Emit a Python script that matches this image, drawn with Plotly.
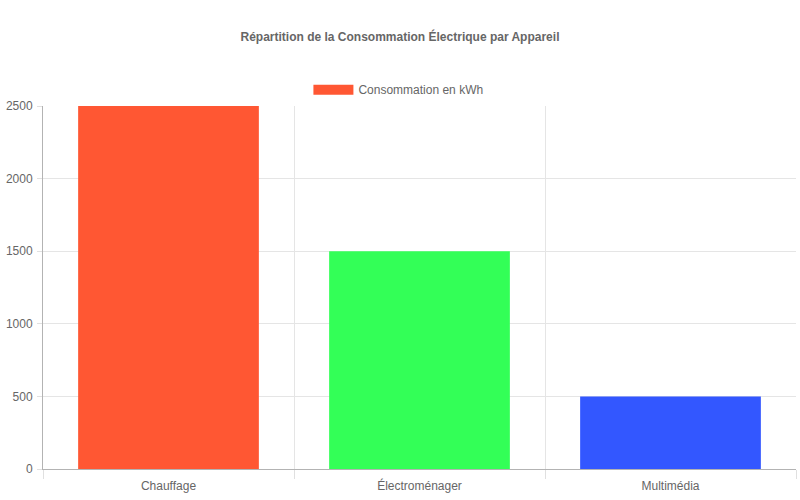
import plotly.graph_objects as go

categories = ["Chauffage", "Électroménager", "Multimédia"]
values = [2500, 1500, 500]
colors = ["#FF5733", "#33FF57", "#3357FF"]
series_name = "Consommation en kWh"
title_text = "Répartition de la Consommation Électrique par Appareil"
y_ticks = [0, 500, 1000, 1500, 2000, 2500]

fig = go.Figure()
fig.add_trace(go.Bar(
    x=categories, y=values, name=series_name,
    marker=dict(color=colors, line=dict(width=0)),
    showlegend=False, legendgroup="s",
))
# legend entry drawn as a wide swatch (like the reference's box)
fig.add_trace(go.Scatter(
    x=[None], y=[None], mode="lines", name=series_name,
    line=dict(color=colors[0], width=12), legendgroup="s", showlegend=True,
    hoverinfo="skip",
))

font_family = "Liberation Sans, Arial, Helvetica, sans-serif"
W, H = 800, 500
fig.update_layout(
    width=W, height=H,
    paper_bgcolor="white", plot_bgcolor="white",
    margin=dict(l=43, r=4, t=106, b=31),
    font=dict(family=font_family, size=12, color="#666666"),
    title=dict(text="<b>" + title_text + "</b>", x=0.5, xanchor="center",
               y=1 - 37 / H, yanchor="middle",
               font=dict(size=12, color="#666666", family=font_family)),
    bargap=0.28,
    legend=dict(orientation="h", x=0.472, xanchor="center", y=1.045, yanchor="middle",
                font=dict(size=12, color="#666666"), bgcolor="rgba(0,0,0,0)",
                itemwidth=40),
    showlegend=True,
)
fig.update_xaxes(
    type="category", tickson="boundaries", ticks="outside", ticklen=9,
    tickcolor="#e0e0e0", showgrid=True, gridcolor="#e5e5e5", gridwidth=1,
    showline=True, linecolor="#b3b3b3", linewidth=1,
    tickfont=dict(size=12, color="#666666"), ticklabelstandoff=6,
)
fig.update_yaxes(
    range=[0, 2500], tickvals=y_ticks, ticks="outside", ticklen=5,
    tickcolor="#e0e0e0", showgrid=True, gridcolor="#e5e5e5", gridwidth=1,
    showline=True, linecolor="#b3b3b3", linewidth=1, zeroline=False,
    tickfont=dict(size=12, color="#666666"), ticklabelstandoff=2,
)
fig.write_html("out.html", config={"displayModeBar": False},
               post_script="document.body.style.margin='0';document.body.style.padding='0';")
